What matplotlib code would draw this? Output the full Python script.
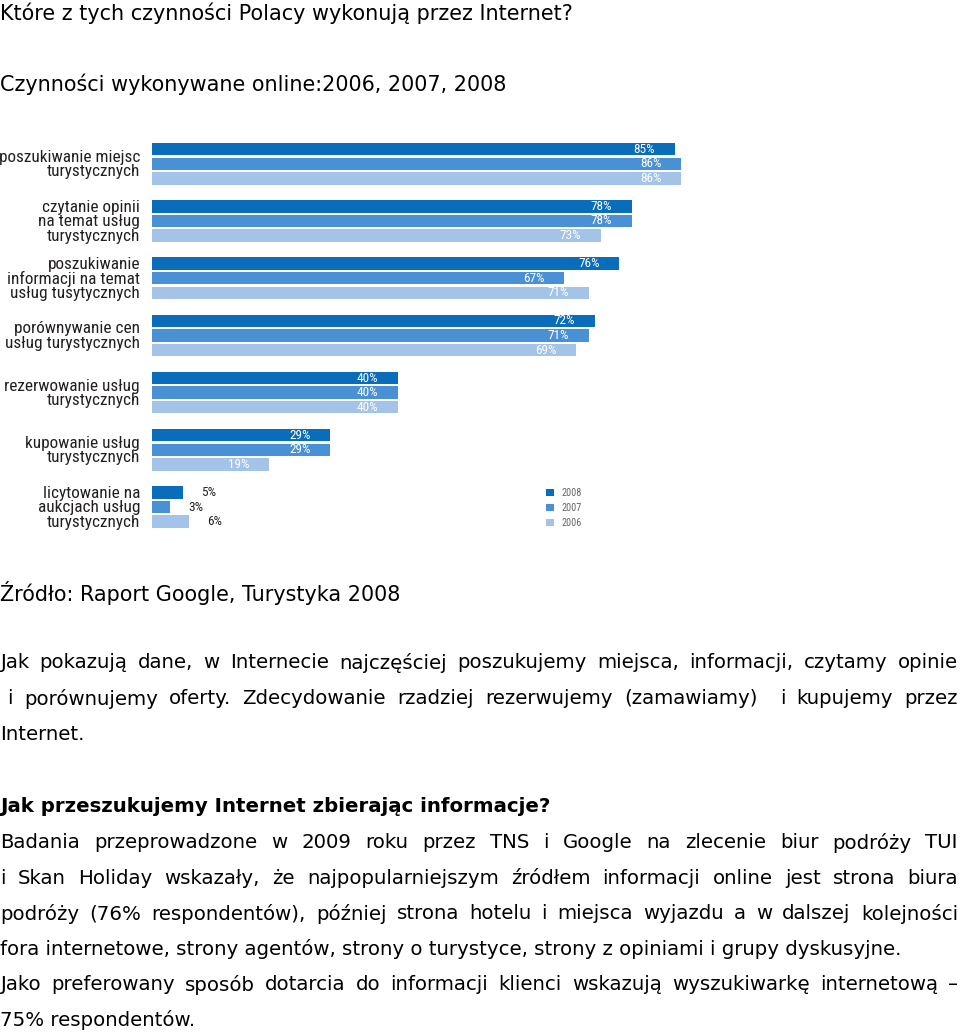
import matplotlib
matplotlib.use('Agg')
import matplotlib.pyplot as plt
from matplotlib import font_manager

#######################################
# data
categories = [
    'poszukiwanie miejsc\nturystycznych',
    'czytanie opinii\nna temat usług\nturystycznych',
    'poszukiwanie\ninformacji na temat\nusług tusytycznych',
    'porównywanie cen\nusług turystycznych',
    'rezerwowanie usług\nturystycznych',
    'kupowanie usług\nturystycznych',
    'licytowanie na\naukcjach usług\nturystycznych',
]
years = ['2008', '2007', '2006']
values_2008 = [85, 78, 76, 72, 40, 29, 5]
values_2007 = [86, 78, 67, 71, 40, 29, 3]
values_2006 = [86, 73, 71, 69, 40, 19, 6]
colors = ['#0a6dbb', '#4a90d4', '#a3c3e8']

# page text
title = 'Które z tych czynności Polacy wykonują przez Internet?'
subtitle = 'Czynności wykonywane online:2006, 2007, 2008'
source = 'Źródło: Raport Google, Turystyka 2008'
para1 = [
    'Jak pokazują dane, w Internecie najczęściej poszukujemy miejsca, informacji, czytamy opinie',
    'i porównujemy oferty. Zdecydowanie rzadziej rezerwujemy (zamawiamy)  i kupujemy przez',
    'Internet.',
]
heading = 'Jak przeszukujemy Internet zbierając informacje?'
para2 = [
    'Badania przeprowadzone w 2009 roku przez TNS i Google na zlecenie biur podróży TUI',
    'i Skan Holiday wskazały, że najpopularniejszym źródłem informacji online jest strona biura',
    'podróży (76% respondentów), później strona hotelu i miejsca wyjazdu a w dalszej kolejności',
    'fora internetowe, strony agentów, strony o turystyce, strony z opiniami i grupy dyskusyjne.',
    'Jako preferowany sposób dotarcia do informacji klienci wskazują wyszukiwarkę internetową –',
    '75% respondentów.',
]
#######################################

W, H = 960, 1035
fig = plt.figure(figsize=(W / 100, H / 100), dpi=100)
page = fig.add_axes([0, 0, 1, 1])
page.set_xlim(0, W)
page.set_ylim(H, 0)
page.axis('off')
r = fig.canvas.get_renderer()

# pick a narrow face for the chart, like the condensed one in the picture
fonts = font_manager.fontManager.ttflist
names = {f.name for f in fonts}
if 'Roboto Condensed' in names:
    chart_fp = font_manager.FontProperties(family='Roboto Condensed')
elif 'Liberation Sans Narrow' in names:
    chart_fp = font_manager.FontProperties(family='Liberation Sans Narrow')
elif any(f.name == 'DejaVu Sans' and 'condensed' in str(f.stretch) for f in fonts):
    chart_fp = font_manager.FontProperties(family='DejaVu Sans', stretch='condensed')
elif any(f.name == 'Roboto' and 'condensed' in str(f.stretch) for f in fonts):
    chart_fp = font_manager.FontProperties(family='Roboto', stretch='condensed')
else:
    chart_fp = font_manager.FontProperties(family='Liberation Sans')
page_font = 'DejaVu Sans'


def width_of(t):
    return t.get_window_extent(renderer=r).width


def fit_size(text, target, weight='normal', fp=None):
    if fp is None:
        fp = font_manager.FontProperties(family=page_font, weight=weight)
    fp = fp.copy()
    fp.set_size(10)
    t = page.text(0, 0, text, fontproperties=fp)
    w = width_of(t)
    t.remove()
    return 10 * target / w


def draw_line(y, line, size, justify=False, weight='normal', x0=0.0, x1=958.0):
    kw = dict(fontsize=size, family=page_font, weight=weight, va='center', color='black')
    if not justify:
        page.text(x0, y, line, **kw)
        return
    words = line.split(' ')
    objs = [page.text(0, y, w, **kw) if w else None for w in words]
    widths = [width_of(o) if o else 0 for o in objs]
    gap = (x1 - x0 - sum(widths)) / (len(words) - 1)
    x = x0
    for o, w in zip(objs, widths):
        if o is not None:
            o.set_x(x)
        x += w + gap


title_size = fit_size(title, 575)
body_size = fit_size(para2[3], 905)

draw_line(13, title, title_size)
draw_line(84, subtitle, title_size)
draw_line(593, source, title_size)

y = 663
for i, line in enumerate(para1):
    draw_line(y, line, body_size, justify=(i < len(para1) - 1), x0=7 if i == 1 else 0)
    y += 36
draw_line(806, heading, body_size, weight='bold')
y = 843
for i, line in enumerate(para2):
    draw_line(y, line, body_size, justify=(i in (0, 1, 2, 4)))
    y += 35.4

#######################################
# bar chart
top, bottom = 140, 532
ax = fig.add_axes([152 / W, 1 - bottom / H, 615 / W, (bottom - top) / H])
ax.set_xlim(0, 100)
ax.set_ylim(bottom - top, 0)
ax.axis('off')

group_step = 57.2
bar_step = 14.6
bar_h = 12.3
first = 9.2

label_size = min(fit_size('poszukiwanie miejsc', 140, fp=chart_fp), 12.5)
value_fp = chart_fp.copy()
value_fp.set_size(min(fit_size('85%', 24, fp=chart_fp), 9.5))
legend_fp = chart_fp.copy()
legend_fp.set_size(min(fit_size('2008', 20, fp=chart_fp), 7.5))

series = [values_2008, values_2007, values_2006]
conts = []
for s, vals in enumerate(series):
    ys = [first + g * group_step + s * bar_step for g in range(len(categories))]
    c = ax.barh(ys, vals, height=bar_h, color=colors[s], label=years[s])
    conts.append(c)
    for rect, v in zip(c, vals):
        yc = rect.get_y() + rect.get_height() / 2
        if v > 15:
            ax.annotate(f'{v}%', (v, yc), xytext=(-14, 0), textcoords='offset points',
                        ha='right', va='center', color='white', fontproperties=value_fp)
        else:
            ax.annotate(f'{v}%', (v, yc), xytext=(13, 0), textcoords='offset points',
                        ha='left', va='center', color='#231f20', fontproperties=value_fp)

label_fp = chart_fp.copy()
label_fp.set_size(label_size)
for g, cat in enumerate(categories):
    lines = cat.split('\n')
    mid = first + g * group_step + bar_step
    for k, ln in enumerate(lines):
        yy = mid + (k - (len(lines) - 1) / 2) * 14.4 + 0.8
        ax.text(-12 / 6.15, yy, ln, ha='right', va='center',
                fontproperties=label_fp, color='#231f20')

ax.legend(handles=conts, loc='upper left', bbox_to_anchor=(546, 488),
          bbox_transform=page.transData, frameon=False,
          handlelength=0.75, handleheight=0.75, handletextpad=0.8,
          labelspacing=0.5, borderpad=0, borderaxespad=0,
          prop=legend_fp, labelcolor='#666666')

fig.savefig('out.png', dpi=100)
